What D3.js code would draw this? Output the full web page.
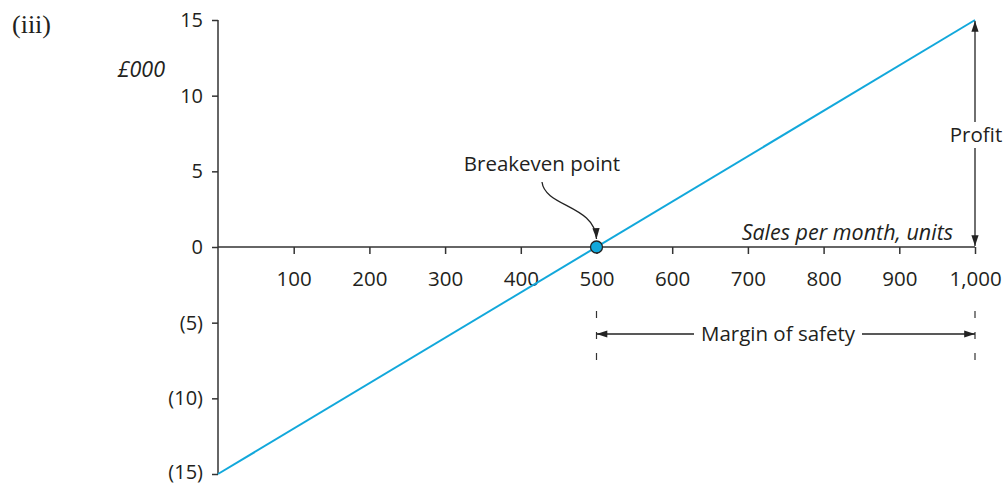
<!DOCTYPE html>
<html><head><meta charset="utf-8">
<script src="https://cdn.jsdelivr.net/npm/d3@7"></script>
<style>body{margin:0;background:#fff}text{font-family:"Open Sans","Noto Sans",sans-serif}</style>
</head><body><svg id="c" width="1005" height="485"></svg>
<script>
const xTicks = [100,200,300,400,500,600,700,800,900,1000];
const xTickLabels = ["100","200","300","400","500","600","700","800","900","1,000"];
const yTicks = [15,10,5,0,-5,-10,-15];
const yTickLabels = ["15","10","5","0","(5)","(10)","(15)"];
const units = [0, 1000];
const profit = [-15, 15];
const breakeven = [500, 0];
const marginRange = [500, 1000];

const svg = d3.select("#c");
const x = d3.scaleLinear().domain([0,1000]).range([218,975]);
const y = d3.scaleLinear().domain([-15,15]).range([474,20]);
const ink = "#333";
const cyan = "#12a8db";
const FS = 20.5;

const defs = svg.append("defs");
defs.append("marker").attr("id","ah").attr("viewBox","0 0 12 10").attr("refX",12).attr("refY",5)
  .attr("markerWidth",12).attr("markerHeight",9).attr("markerUnits","userSpaceOnUse").attr("orient","auto-start-reverse")
  .append("path").attr("d","M0,1 L12,5 L0,9 Z").attr("fill","#222");

// y axis
const ya = d3.axisLeft(y).tickValues(yTicks).tickFormat((d,i)=>yTickLabels[i]).tickSize(6).tickPadding(9);
const gy = svg.append("g").attr("transform",`translate(${x(0)},0)`).call(ya);
gy.select(".domain").attr("stroke",ink).attr("stroke-width",1.5).attr("d",`M0,${y(15)}V${y(-15)}`);
gy.selectAll(".tick line").attr("stroke",ink).attr("stroke-width",1.5);
gy.selectAll(".tick text").attr("font-size",20).attr("fill","#231f20")
  .attr("dy",d=>d===-15?"0.2em":"0.32em").style("font-family","'Open Sans',sans-serif");

// x axis at y=0
const xa = d3.axisBottom(x).tickValues(xTicks).tickFormat((d,i)=>xTickLabels[i]).tickSize(7).tickPadding(17);
const gx = svg.append("g").attr("transform",`translate(0,${y(0)})`).call(xa);
gx.select(".domain").attr("stroke",ink).attr("stroke-width",1.5).attr("d",`M${x(0)},0H${x(1000)}`);
gx.selectAll(".tick line").attr("stroke",ink).attr("stroke-width",1.5);
gx.selectAll(".tick text").attr("font-size",FS).attr("fill","#231f20").style("font-family","'Open Sans',sans-serif");

// line
svg.append("path").datum(units.map((u,i)=>[u,profit[i]]))
  .attr("d",d3.line().x(d=>x(d[0])).y(d=>y(d[1])))
  .attr("stroke",cyan).attr("stroke-width",2).attr("fill","none");

// breakeven
svg.append("circle").attr("cx",x(breakeven[0])).attr("cy",y(breakeven[1])).attr("r",6)
  .attr("fill",cyan).attr("stroke","#222").attr("stroke-width",1.3);
svg.append("text").attr("x",542).attr("y",171).attr("text-anchor","middle").attr("font-size",FS).attr("fill","#231f20").text("Breakeven point");
svg.append("path").attr("d",`M542,182 C545,207 595,205 ${x(500)},${y(0)-8}`)
  .attr("fill","none").attr("stroke","#222").attr("stroke-width",1.3).attr("marker-end","url(#ah)");

// labels
svg.append("text").attr("x",12).attr("y",33).attr("font-size",26).style("font-family","'Liberation Serif','DejaVu Serif',serif").attr("fill","#231f20").text("(iii)");
svg.append("text").attr("x",165).attr("y",77).attr("text-anchor","end").attr("font-size",21.5).attr("font-style","italic").attr("fill","#231f20").text("£000");
svg.append("text").attr("x",953).attr("y",240).attr("text-anchor","end").attr("font-size",21.5).attr("font-style","italic").attr("fill","#231f20").text("Sales per month, units");

// profit arrow
svg.append("line").attr("x1",x(1000)).attr("x2",x(1000)).attr("y1",y(0)-1).attr("y2",y(15)+1)
  .attr("stroke","#222").attr("stroke-width",1.3).attr("marker-start","url(#ah)").attr("marker-end","url(#ah)");
svg.append("rect").attr("x",x(1000)-3).attr("y",122).attr("width",6).attr("height",26).attr("fill","#fff");
svg.append("text").attr("x",976).attr("y",142).attr("text-anchor","middle").attr("font-size",FS).attr("fill","#231f20").text("Profit");

// margin of safety
const my = 334;
marginRange.forEach(v=>{
  svg.append("line").attr("x1",x(v)).attr("x2",x(v)).attr("y1",311).attr("y2",362)
    .attr("stroke","#333").attr("stroke-width",1.2).attr("stroke-dasharray","7,14");
});
svg.append("line").attr("x1",x(marginRange[0])).attr("x2",694).attr("y1",my).attr("y2",my)
  .attr("stroke","#222").attr("stroke-width",1.3).attr("marker-start","url(#ah)");
svg.append("line").attr("x1",862).attr("x2",x(marginRange[1])).attr("y1",my).attr("y2",my)
  .attr("stroke","#222").attr("stroke-width",1.3).attr("marker-end","url(#ah)");
svg.append("text").attr("x",778).attr("y",my+7).attr("text-anchor","middle").attr("font-size",FS).attr("fill","#231f20").text("Margin of safety");
</script></body></html>
